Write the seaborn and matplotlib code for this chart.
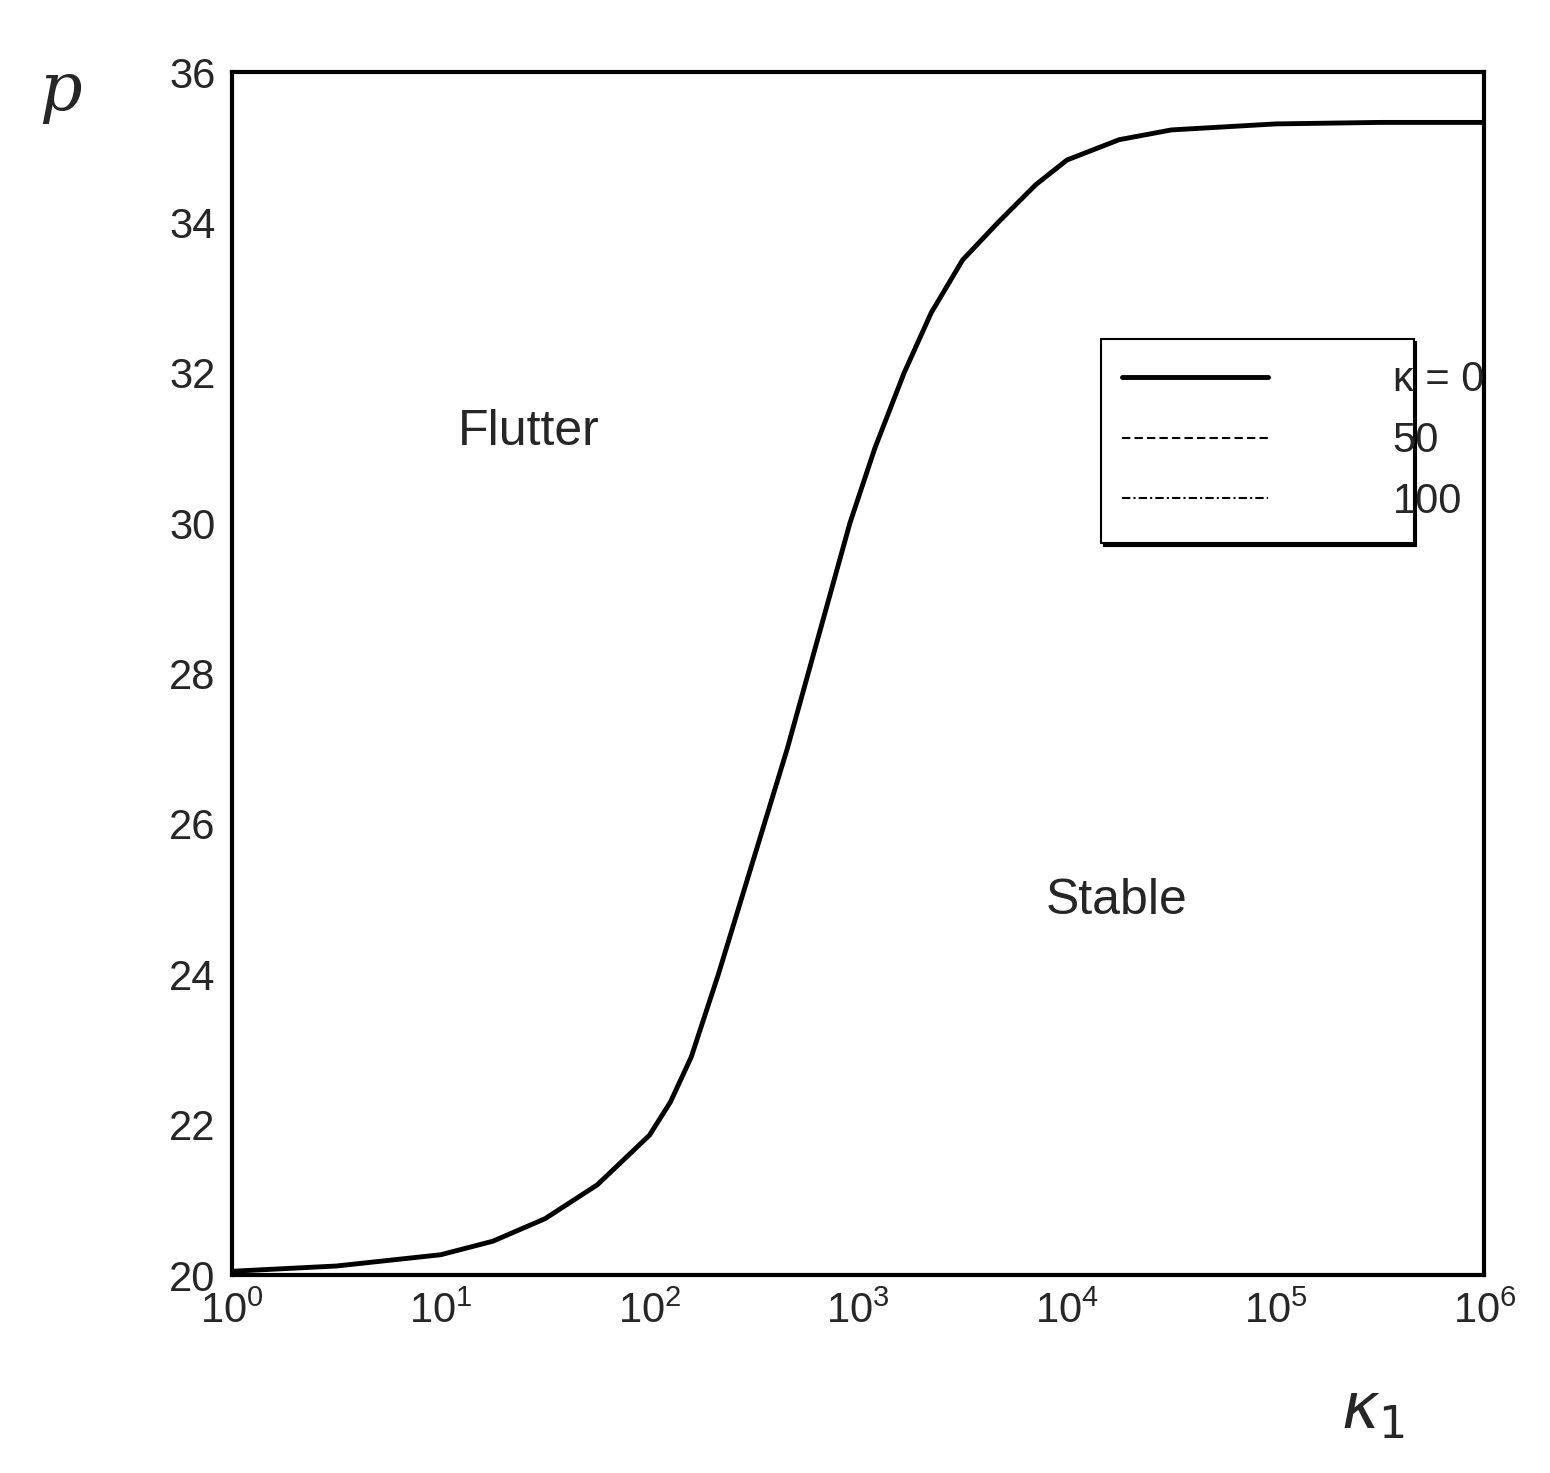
import numpy as np
import pandas as pd
import matplotlib
matplotlib.use("Agg")
import matplotlib.pyplot as plt
import seaborn as sns

log_k1 = [0, 0.5, 1, 1.25, 1.5, 1.75, 2, 2.1, 2.2, 2.33, 2.44, 2.55, 2.66, 2.76, 2.86, 2.96, 3.08, 3.22, 3.35, 3.5, 3.67, 3.85, 4, 4.25, 4.5, 5, 5.5, 6]
p_vals = [20.05, 20.12, 20.27, 20.45, 20.75, 21.2, 21.86, 22.3, 22.9, 24.0, 25.0, 26.0, 27.0, 28.0, 29.0, 30.0, 31.0, 32.0, 32.8, 33.5, 34.0, 34.5, 34.83, 35.1, 35.23, 35.31, 35.33, 35.33]
series = ["κ = 0", "50", "100"]
styles = ["-", (0, (4, 2)), (0, (4, 1.5, 1, 1.5))]

sns.set_theme(style="white")
plt.rcParams['font.family'] = ['Liberation Sans', 'DejaVu Sans']

fig = plt.figure(figsize=(15.5, 14.73), dpi=100)
ax = fig.add_axes([0.1497, 0.1344, 0.808, 0.8167])

k1 = [10 ** v for v in log_k1]
for name, ls in zip(series, styles):
    df = pd.DataFrame({"k1": k1, "p": p_vals})
    sns.lineplot(data=df, x="k1", y="p", ax=ax, color="black", lw=3.5 if ls == "-" else 1.5,
                 linestyle=ls, label=name)

ax.set_xscale("log")
ax.set_xlim(1, 1e6)
ax.set_ylim(20, 36)
ax.set_yticks(range(20, 37, 2))
ax.set_xticks([10 ** i for i in range(7)])
ax.minorticks_off()
ax.tick_params(direction="in", length=18, width=2, labelsize=30, color="black", pad=12,
               top=False, right=False)
for s in ax.spines.values():
    s.set_linewidth(3)
    s.set_color("black")
ax.set_xlabel("")
ax.set_ylabel("")
fig.text(0.025, 0.925, "p", fontsize=48, style="italic", family="DejaVu Serif")
fig.text(0.865, 0.03, r"$\kappa_1$", fontsize=46)
ax.text(0.18, 0.69, "Flutter", transform=ax.transAxes, fontsize=36)
ax.text(0.65, 0.3, "Stable", transform=ax.transAxes, fontsize=36)

leg = ax.legend(loc="upper right", bbox_to_anchor=(0.96, 0.795), fontsize=30, frameon=True,
                fancybox=False, shadow={"color": "black", "alpha": 1}, edgecolor="black",
                handlelength=3.5, markerfirst=True, borderpad=0.5)
leg.get_frame().set_linewidth(1.5)
for t in leg.get_texts():
    t.set_ha("right")
renderer = fig.canvas.get_renderer()
w = max(t.get_window_extent(renderer).width for t in leg.get_texts())
for t in leg.get_texts():
    t.set_position((w, 0))

fig.savefig("out.png", dpi=100)
